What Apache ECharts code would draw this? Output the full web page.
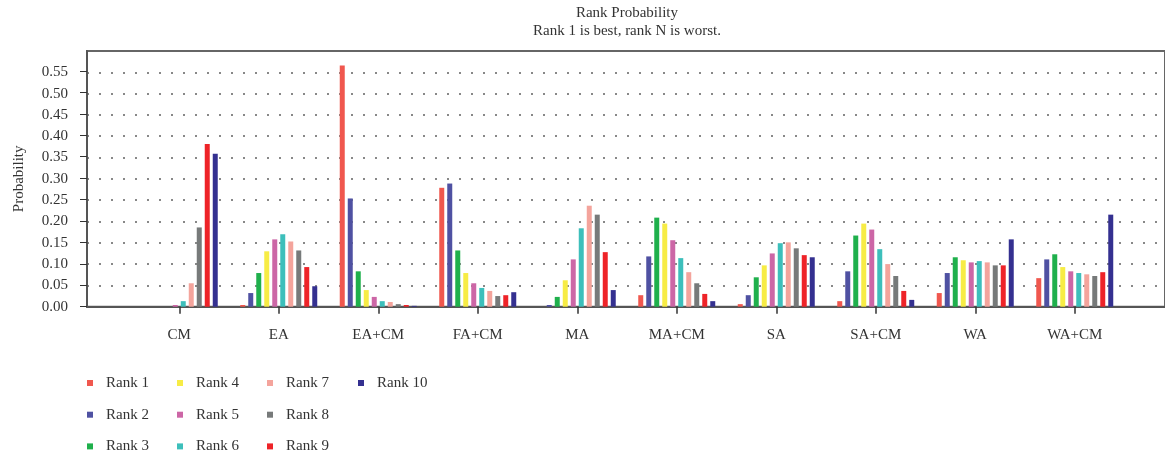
<!DOCTYPE html>
<html>
<head>
<meta charset="utf-8">
<script src="https://cdn.jsdelivr.net/npm/echarts@6/dist/echarts.min.js"></script>
<style>
  html, body { margin: 0; padding: 0; background: #fff; }
  #chart { width: 1165px; height: 458px; }
</style>
</head>
<body>
<div id="chart"></div>
<script>
// categories (methods) and rank probabilities
const categories = ['CM', 'EA', 'EA+CM', 'FA+CM', 'MA', 'MA+CM', 'SA', 'SA+CM', 'WA', 'WA+CM'];
const rank1  = [0,     0.004, 0.566, 0.279, 0,     0.027, 0.006, 0.013, 0.032, 0.067];
const rank2  = [0,     0.032, 0.254, 0.289, 0.004, 0.118, 0.027, 0.083, 0.079, 0.111];
const rank3  = [0,     0.079, 0.083, 0.132, 0.023, 0.209, 0.069, 0.167, 0.116, 0.123];
const rank4  = [0,     0.130, 0.039, 0.079, 0.062, 0.195, 0.097, 0.195, 0.109, 0.093];
const rank5  = [0.004, 0.158, 0.023, 0.055, 0.111, 0.156, 0.125, 0.181, 0.104, 0.083];
const rank6  = [0.013, 0.170, 0.013, 0.044, 0.184, 0.114, 0.149, 0.135, 0.107, 0.079];
const rank7  = [0.055, 0.153, 0.011, 0.037, 0.237, 0.081, 0.151, 0.100, 0.104, 0.076];
const rank8  = [0.186, 0.132, 0.006, 0.025, 0.216, 0.055, 0.137, 0.072, 0.097, 0.072];
const rank9  = [0.382, 0.093, 0.004, 0.027, 0.128, 0.030, 0.121, 0.037, 0.097, 0.081];
const rank10 = [0.359, 0.048, 0.002, 0.034, 0.039, 0.013, 0.116, 0.016, 0.158, 0.216];

const seriesNames = ['Rank 1', 'Rank 2', 'Rank 3', 'Rank 4', 'Rank 5', 'Rank 6', 'Rank 7', 'Rank 8', 'Rank 9', 'Rank 10'];
const seriesData = [rank1, rank2, rank3, rank4, rank5, rank6, rank7, rank8, rank9, rank10];
const colors = ['#f0574e', '#4f51a2', '#1fb04c', '#f7ec45', '#cc66a6', '#3dbfbb', '#f4a49c', '#777a7a', '#ee2328', '#343090'];

const FONT = 'Liberation Serif';
const chart = echarts.init(document.getElementById('chart'));

const legendCols = [[0, 1, 2], [3, 4, 5], [6, 7, 8], [9]];
const legendLeft = [87, 177, 267, 358];

// plot frame: y = 0 at 306.7px, 428.6px per unit
const PLOT_BOTTOM = 151.3;
const TICK_TOP = 306.7 - 0.55 * 428.6;

const option = {
  backgroundColor: '#fff',
  color: colors,
  textStyle: { fontFamily: FONT },
  title: {
    text: 'Rank Probability',
    subtext: 'Rank 1 is best, rank N is worst.',
    left: 627,
    top: 5,
    padding: 0,
    textAlign: 'center',
    itemGap: 1,
    textStyle: { fontFamily: FONT, fontSize: 15, fontWeight: 'normal', color: '#333', lineHeight: 17 },
    subtextStyle: { fontFamily: FONT, fontSize: 15, color: '#333', lineHeight: 17 }
  },
  legend: legendCols.map((col, i) => ({
    orient: 'vertical',
    left: legendLeft[i],
    top: 375,
    padding: 0,
    icon: 'rect',
    itemWidth: 6,
    itemHeight: 6,
    itemGap: 15.7,
    data: col.map(k => seriesNames[k]),
    textStyle: { fontFamily: FONT, fontSize: 15, color: '#333', lineHeight: 16, padding: [0, 0, 0, 8] }
  })),
  grid: [
    // frame with dotted grid
    { left: 87, right: -10, top: 51, bottom: PLOT_BOTTOM, show: true, borderColor: '#666', borderWidth: 2, backgroundColor: 'transparent' },
    // bar area
    { left: 129.5, right: 40.5, top: 51, bottom: PLOT_BOTTOM },
    // only for y ticks 0 .. 0.55
    { left: 87, right: -10, top: TICK_TOP, bottom: PLOT_BOTTOM }
  ],
  xAxis: [
    {
      gridIndex: 0, type: 'value', min: 0, max: 1, offset: 4,
      axisLine: { show: true, lineStyle: { color: '#555', width: 2 } },
      axisTick: { show: false }, axisLabel: { show: false }, splitLine: { show: false }
    },
    {
      gridIndex: 1, type: 'category', data: categories, offset: 4,
      axisLine: { show: false },
      axisTick: { show: true, alignWithLabel: true, length: 7, lineStyle: { color: '#333', width: 1.5 } },
      axisLabel: { margin: 17, fontFamily: FONT, fontSize: 15, color: '#333' },
      splitLine: { show: false }
    },
    { gridIndex: 2, type: 'value', show: false }
  ],
  yAxis: [
    {
      gridIndex: 0, type: 'value', min: 0, max: 0.6, interval: 0.05, offset: 4,
      name: 'Probability', nameLocation: 'middle', nameGap: 56,
      nameTextStyle: { fontFamily: FONT, fontSize: 15, color: '#333' },
      axisLine: { show: true, lineStyle: { color: '#555', width: 2 } },
      axisTick: { show: false },
      axisLabel: {
        margin: 15, fontFamily: FONT, fontSize: 15, color: '#333',
        formatter: v => (v > 0.58 ? '' : v.toFixed(2))
      },
      splitLine: { show: true, showMinLine: false, showMaxLine: false, lineStyle: { color: '#888', width: 2, type: [2, 10] } }
    },
    { gridIndex: 1, type: 'value', min: 0, max: 0.6, show: false },
    {
      gridIndex: 2, type: 'value', min: 0, max: 0.55, interval: 0.05, offset: 4,
      axisLine: { show: false },
      axisTick: { show: true, length: 7, lineStyle: { color: '#333', width: 1 } },
      axisLabel: { show: false },
      splitLine: { show: false }
    }
  ],
  series: seriesNames.map((name, i) => ({
    name,
    type: 'bar',
    xAxisIndex: 1,
    yAxisIndex: 1,
    barWidth: 5,
    barGap: '60%',
    itemStyle: { color: colors[i] },
    data: seriesData[i]
  }))
};

chart.setOption(option);
</script>
</body>
</html>
